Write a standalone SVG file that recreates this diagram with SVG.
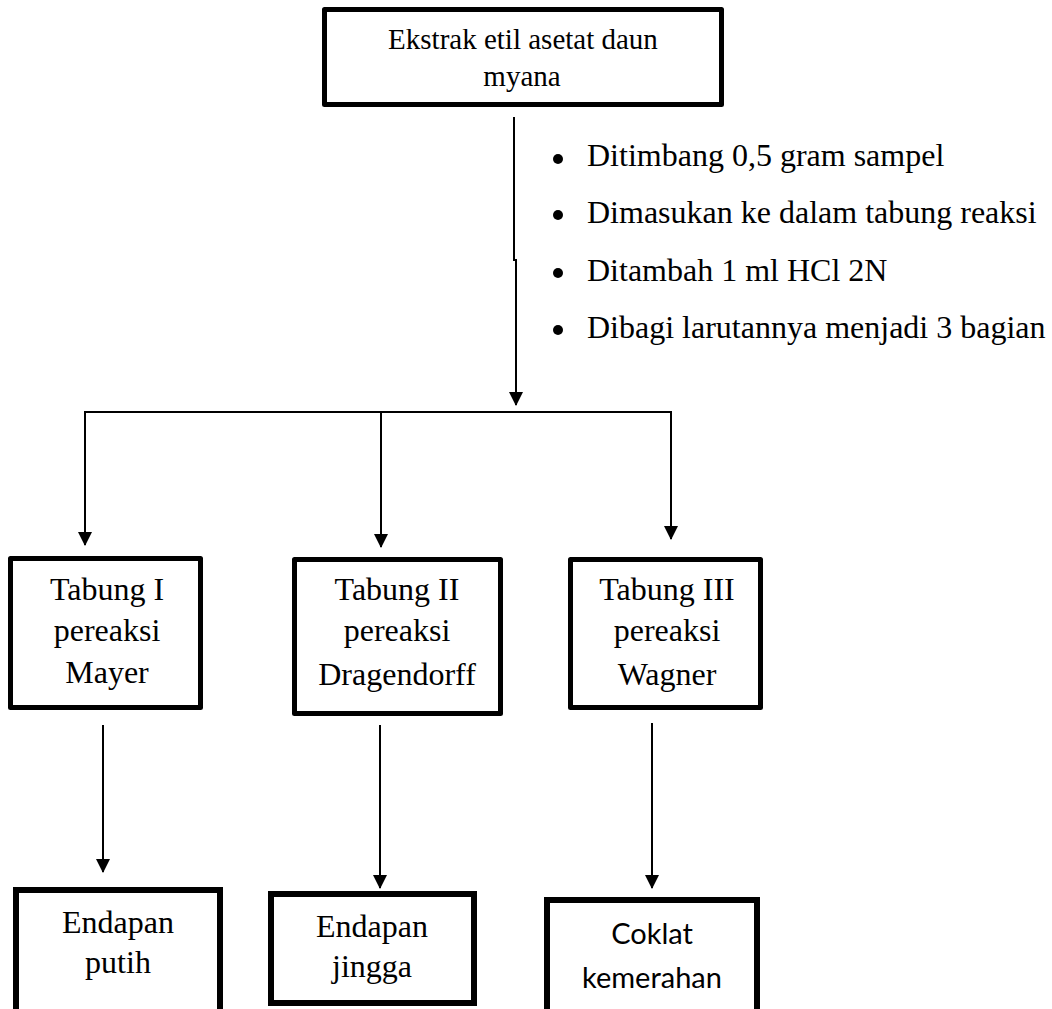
<svg xmlns="http://www.w3.org/2000/svg" width="1052" height="1009" viewBox="0 0 1052 1009">
  <style>
    .box { fill: #ffffff; stroke: #000000; stroke-width: 5; stroke-linejoin: round; }
    .box-heavy { fill: #ffffff; stroke: #000000; stroke-width: 6; }
    .mid { text-anchor: middle; }
    .wire { fill: none; stroke: #000000; stroke-width: 2; }
  </style>
  <defs>
    <marker id="arrow" markerUnits="userSpaceOnUse" markerWidth="14" markerHeight="14" refX="13" refY="7" orient="auto">
      <path d="M0,0 L14,7 L0,14 Z" fill="#000000"/>
    </marker>
  </defs>

  <rect width="1052" height="1009" fill="#ffffff"/>

  <!-- connectors -->
  <g id="connectors">
    <path class="wire" d="M514,117 V261"/>
    <path class="wire" d="M516,259 V405" marker-end="url(#arrow)"/>
    <path class="wire" d="M84,412 H671"/>
    <path class="wire" d="M85,412 V545" marker-end="url(#arrow)"/>
    <path class="wire" d="M381,412 V547" marker-end="url(#arrow)"/>
    <path class="wire" d="M671,411 V539" marker-end="url(#arrow)"/>
    <path class="wire" d="M103,725 V872" marker-end="url(#arrow)"/>
    <path class="wire" d="M380,725 V888" marker-end="url(#arrow)"/>
    <path class="wire" d="M652,723 V888" marker-end="url(#arrow)"/>
  </g>

  <g font-family="'Liberation Serif', Tinos, 'Times New Roman', Times, serif" fill="#000000">
    <!-- source extract -->
    <g id="node-extract" font-size="29">
      <rect class="box" x="324.5" y="9.5" width="397" height="95"/>
      <text class="mid" x="523" y="49">Ekstrak etil asetat daun</text>
      <text class="mid" x="522" y="86">myana</text>
    </g>

    <!-- preparation steps -->
    <g id="steps" font-size="32">
      <circle cx="558" cy="159" r="5"/>
      <circle cx="558" cy="215" r="5"/>
      <circle cx="558" cy="273" r="5"/>
      <circle cx="558" cy="330" r="5"/>
      <text x="587" y="166">Ditimbang 0,5 gram sampel</text>
      <text x="587" y="223">Dimasukan ke dalam tabung reaksi</text>
      <text x="587" y="281">Ditambah 1 ml HCl 2N</text>
      <text x="587" y="338">Dibagi larutannya menjadi 3 bagian</text>
    </g>

    <!-- test tubes -->
    <g id="node-tabung-1" font-size="32">
      <rect class="box" x="10.5" y="558.5" width="190" height="149"/>
      <text class="mid" x="107" y="600">Tabung I</text>
      <text class="mid" x="107" y="641">pereaksi</text>
      <text class="mid" x="107" y="683">Mayer</text>
    </g>
    <g id="node-tabung-2" font-size="32">
      <rect class="box" x="294.5" y="559.5" width="206" height="154"/>
      <text class="mid" x="397" y="600">Tabung II</text>
      <text class="mid" x="397" y="641">pereaksi</text>
      <text class="mid" x="397" y="685">Dragendorff</text>
    </g>
    <g id="node-tabung-3" font-size="32">
      <rect class="box" x="570.5" y="559.5" width="190" height="148"/>
      <text class="mid" x="667" y="600">Tabung III</text>
      <text class="mid" x="667" y="641">pereaksi</text>
      <text class="mid" x="667" y="685">Wagner</text>
    </g>

    <!-- results -->
    <g id="node-putih" font-size="32">
      <rect class="box-heavy" x="16" y="890" width="204" height="140"/>
      <text class="mid" x="118" y="933">Endapan</text>
      <text class="mid" x="118" y="973">putih</text>
    </g>
    <g id="node-jingga" font-size="32">
      <rect class="box-heavy" x="271" y="894" width="203" height="109"/>
      <text class="mid" x="372" y="937">Endapan</text>
      <text class="mid" x="372" y="977">jingga</text>
    </g>
  </g>

  <g id="node-coklat" font-family="Lato, 'Liberation Sans', sans-serif" font-size="29" fill="#000000">
    <rect class="box-heavy" x="547" y="900" width="210" height="140"/>
    <text class="mid" x="652" y="944">Coklat</text>
    <text class="mid" x="652" y="988">kemerahan</text>
  </g>
</svg>
